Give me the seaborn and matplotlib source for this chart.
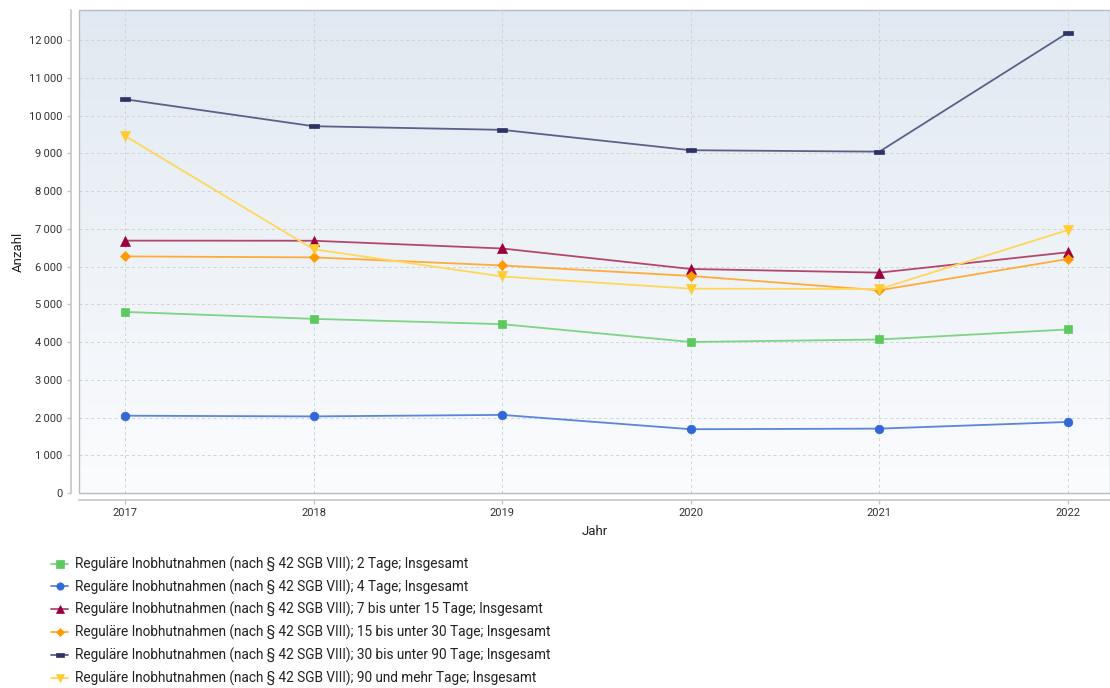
import numpy as np
import pandas as pd
import matplotlib
matplotlib.use("Agg")
import matplotlib.pyplot as plt
from matplotlib.patches import Rectangle
from matplotlib.ticker import FuncFormatter, MultipleLocator
import seaborn as sns

# Data: regular taking into care (§ 42 SGB VIII) by duration, 2017-2022
years = [2017, 2018, 2019, 2020, 2021, 2022]
tage_2 = [4800, 4615, 4474, 4002, 4068, 4334]
tage_4 = [2048, 2030, 2070, 1690, 1706, 1883]
tage_7_15 = [6688, 6685, 6480, 5937, 5840, 6380]
tage_15_30 = [6270, 6244, 6030, 5752, 5372, 6202]
tage_30_90 = [10435, 9720, 9624, 9084, 9046, 12200]
tage_90_plus = [9462, 6459, 5738, 5415, 5405, 6970]

prefix = "Reguläre Inobhutnahmen (nach § 42 SGB VIII); "
labels = [
    prefix + "2 Tage; Insgesamt",
    prefix + "4 Tage; Insgesamt",
    prefix + "7 bis unter 15 Tage; Insgesamt",
    prefix + "15 bis unter 30 Tage; Insgesamt",
    prefix + "30 bis unter 90 Tage; Insgesamt",
    prefix + "90 und mehr Tage; Insgesamt",
]
series = [tage_2, tage_4, tage_7_15, tage_15_30, tage_30_90, tage_90_plus]

marker_colors = ["#5cc95f", "#3366d6", "#99003d", "#ff9a00", "#2e3366", "#ffcc33"]
line_colors = ["#7ed483", "#5a85dd", "#b3476b", "#ffab3a", "#5c6089", "#ffd75a"]

flat_rect = np.array([[-1.0, -0.5], [1.0, -0.5], [1.0, 0.5], [-1.0, 0.5], [-1.0, -0.5]])
markers = ["s", "o", "^", "D", flat_rect, "v"]
msizes = [6, 6.2, 6.5, 4.8, 6.5, 6.8]

sns.set_theme(style="white")
plt.rcParams["font.family"] = ["Roboto", "DejaVu Sans"]

fig = plt.figure(figsize=(11.10, 6.88), dpi=100)
ax = fig.add_axes([79 / 1110, (688 - 493) / 688, (1110 - 79) / 1110, (493 - 10) / 688])

# vertical gradient background of the plot area
grad = np.linspace(0, 1, 256).reshape(-1, 1)
top = np.array([224, 233, 241]) / 255
bottom = np.array([251, 252, 254]) / 255
img = (top[None, None, :] * (1 - grad[..., None]) + bottom[None, None, :] * grad[..., None])
ax.imshow(img, extent=[0, 1, 0, 1], transform=ax.transAxes, aspect="auto", zorder=0)

for vals, lab, mc, lc, mk, ms in zip(series, labels, marker_colors, line_colors, markers, msizes):
    df = pd.DataFrame({"Jahr": years, "Anzahl": vals})
    sns.lineplot(
        data=df, x="Jahr", y="Anzahl", ax=ax, label=lab,
        color=lc, linewidth=1.3, marker=mk, markersize=ms,
        markerfacecolor=mc, markeredgecolor=mc, markeredgewidth=0.5, zorder=3,
    )

ax.set_xlim(2016.756, 2022.223)
ax.set_ylim(0, 12800)
ax.set_xticks(years)
ax.yaxis.set_major_locator(MultipleLocator(1000))
ax.yaxis.set_major_formatter(FuncFormatter(lambda v, p: f"{int(v):,}".replace(",", "\u2009")))

ax.grid(True, color="#cfd3d8", linestyle=(0, (3, 3)), linewidth=0.7, zorder=1)
ax.set_axisbelow(True)

# frame of the plot area
ax.add_patch(Rectangle((0, 0), 1, 1, transform=ax.transAxes, fill=False,
                       edgecolor="#b8bcc0", linewidth=1.0, zorder=2, clip_on=False))

for side in ["right", "top"]:
    ax.spines[side].set_visible(False)
for side in ["left", "bottom"]:
    ax.spines[side].set_color("#c4c7ca")
    ax.spines[side].set_linewidth(1.2)
ax.spines["left"].set_position(("outward", 6))
ax.spines["bottom"].set_position(("outward", 5))

ax.tick_params(axis="both", which="major", labelsize=8, labelcolor="#333333",
               color="#c4c7ca", length=3, width=1, left=True, bottom=True, pad=3)

ax.set_xlabel("Jahr", fontsize=9.5, color="#222222", labelpad=5)
ax.set_ylabel("Anzahl", fontsize=9.5, color="#222222", labelpad=3)

handles, labs = ax.get_legend_handles_labels()
ax.legend_.remove()
fig.legend(handles, labs, loc="upper left", bbox_to_anchor=(46 / 1110, 1 - 551 / 688),
           frameon=False, fontsize=9.8, handlelength=1.2, handletextpad=0.55,
           labelspacing=0.55, borderaxespad=0, labelcolor="#222222", markerscale=0.85)

fig.savefig("out.png", dpi=100)
